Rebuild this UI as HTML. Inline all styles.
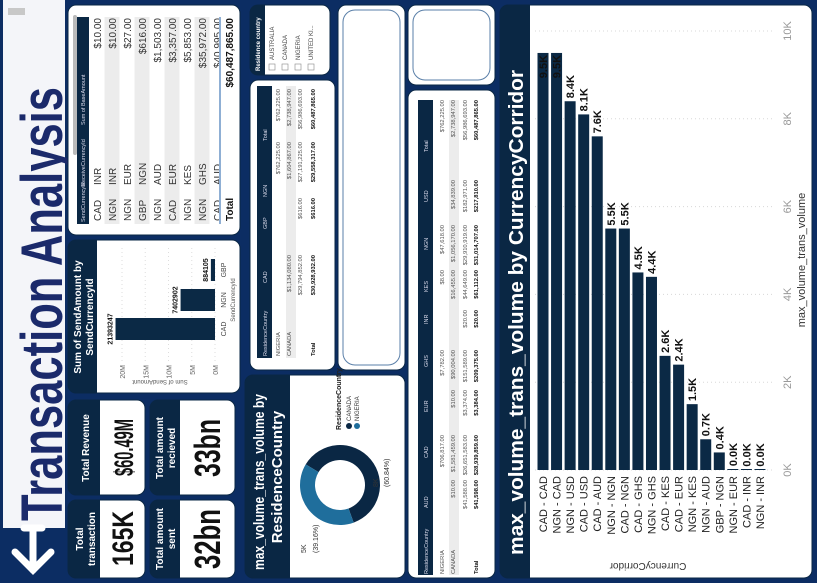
<!DOCTYPE html>
<html>
<head>
<meta charset="utf-8">
<style>
html,body{margin:0;padding:0;width:817px;height:583px;overflow:hidden;background:#0c2d63;}
#rot{position:absolute;left:0;top:0;width:583px;height:817px;transform-origin:0 0;transform:translate(0,583px) rotate(-90deg);}
svg text{font-family:"Liberation Sans",sans-serif;}
</style>
</head>
<body>
<div id="rot">
<svg id="dash" width="583" height="817" viewBox="0 0 583 817" xmlns="http://www.w3.org/2000/svg">
  <rect x="0" y="0" width="583" height="817" fill="#0c2d63"/>
  <!-- title panel -->
  <rect x="55" y="3" width="528" height="62" fill="#f4f5f9"/>
  <rect x="568" y="8" width="7" height="17" fill="#c8c8c8"/>
  <text x="62" y="62" font-size="58" font-weight="bold" fill="#1b2a6b" textLength="434" lengthAdjust="spacingAndGlyphs">Transaction Analysis</text>
  <g stroke="#fff" stroke-width="7" fill="none" stroke-linecap="round">
    <line x1="13" y1="33" x2="53" y2="33"/>
    <polyline points="31,15 13,33 31,51"/>
    <line x1="55" y1="24" x2="55" y2="42"/>
  </g>

  <!-- KPI cards -->
  <g>
    <rect x="5" y="68" width="78" height="77" rx="8" fill="#fff" stroke="#0a2744"/>
    <rect x="5" y="68" width="78" height="32" rx="8" fill="#0a2744"/><rect x="5" y="85" width="78" height="15" fill="#0a2744"/>
    <text x="44" y="83" font-size="10" font-weight="bold" fill="#fff" text-anchor="middle">Total</text>
    <text x="44" y="95" font-size="10" font-weight="bold" fill="#fff" text-anchor="middle">transaction</text>
    <text x="17" y="133" font-size="30" font-weight="bold" fill="#111" textLength="55" lengthAdjust="spacingAndGlyphs">165K</text>
  </g>
  <g>
    <rect x="5" y="150" width="78" height="85" rx="8" fill="#fff" stroke="#0a2744"/>
    <rect x="5" y="150" width="78" height="30" rx="8" fill="#0a2744"/><rect x="5" y="165" width="78" height="15" fill="#0a2744"/>
    <text x="44" y="163" font-size="10" font-weight="bold" fill="#fff" text-anchor="middle">Total amount</text>
    <text x="44" y="175" font-size="10" font-weight="bold" fill="#fff" text-anchor="middle">sent</text>
    <text x="14" y="220" font-size="36" font-weight="bold" fill="#111" textLength="60" lengthAdjust="spacingAndGlyphs">32bn</text>
  </g>
  <g>
    <rect x="88" y="68" width="95" height="77" rx="8" fill="#fff" stroke="#0a2744"/>
    <rect x="88" y="68" width="95" height="32" rx="8" fill="#0a2744"/><rect x="88" y="85" width="95" height="15" fill="#0a2744"/>
    <text x="135" y="89" font-size="10" font-weight="bold" fill="#fff" text-anchor="middle">Total Revenue</text>
    <text x="107" y="133" font-size="27" font-weight="bold" fill="#111" textLength="57" lengthAdjust="spacingAndGlyphs">$60.49M</text>
  </g>
  <g>
    <rect x="88" y="150" width="95" height="85" rx="8" fill="#fff" stroke="#0a2744"/>
    <rect x="88" y="150" width="95" height="30" rx="8" fill="#0a2744"/><rect x="88" y="165" width="95" height="15" fill="#0a2744"/>
    <text x="135" y="163" font-size="10" font-weight="bold" fill="#fff" text-anchor="middle">Total amount</text>
    <text x="135" y="175" font-size="10" font-weight="bold" fill="#fff" text-anchor="middle">recieved</text>
    <text x="106" y="220" font-size="36" font-weight="bold" fill="#111" textLength="58" lengthAdjust="spacingAndGlyphs">33bn</text>
  </g>

  <!-- Sum of SendAmount card -->
  <g>
    <rect x="190" y="68" width="153" height="172" rx="8" fill="#fff" stroke="#0a2744"/>
    <rect x="190" y="68" width="153" height="29" rx="8" fill="#0a2744"/><rect x="190" y="82" width="153" height="15" fill="#0a2744"/>
    <text x="266" y="81" font-size="10" font-weight="bold" fill="#fff" text-anchor="middle">Sum of SendAmount by</text>
    <text x="266" y="93" font-size="10" font-weight="bold" fill="#fff" text-anchor="middle">SendCurrencyId</text>
  </g>
  <g id="smallChart"></g>

  <!-- table 1 -->
  <g>
    <rect x="348" y="68" width="230" height="172" rx="8" fill="#fff" stroke="#0a2744"/>
    <rect x="428" y="73" width="140" height="4" rx="2" fill="#bbb"/>
  </g>
  <g id="table1"></g>

  <!-- donut card -->
  <g>
    <rect x="5" y="245" width="203" height="160" rx="8" fill="#fff" stroke="#0a2744"/>
    <rect x="5" y="245" width="203" height="45" rx="8" fill="#0a2744"/><rect x="5" y="260" width="203" height="30" fill="#0a2744"/>
    <text x="13" y="264" font-size="15" font-weight="bold" fill="#fff" textLength="176" lengthAdjust="spacingAndGlyphs">max_volume_trans_volume by</text>
    <text x="106" y="282" font-size="15" font-weight="bold" fill="#fff" text-anchor="middle">ResidenceCountry</text>
  </g>
  <g id="donut"></g>

  <!-- slicer -->
  <g>
    <rect x="508" y="250" width="70" height="80" rx="8" fill="#fff" stroke="#0a2744"/>
    <rect x="508" y="250" width="70" height="15" rx="7" fill="#0a2744"/><rect x="508" y="258" width="70" height="7" fill="#0a2744"/>
    <text x="512" y="260" font-size="6" font-weight="bold" fill="#fff">Residence country</text>
  </g>
  <g id="slicer"></g>

  <!-- table 2 -->
  <rect x="213" y="250" width="290" height="85" rx="8" fill="#fff" stroke="#0a2744"/>
  <g id="table2"></g>

  <!-- empty boxes -->
  <g>
    <rect x="213" y="338" width="365" height="67" rx="8" fill="#fff" stroke="#0a2744"/>
    <rect x="218" y="343" width="355" height="57" rx="12" fill="none" stroke="#5a7fa8"/>
  </g>
  <g>
    <rect x="498" y="408" width="80" height="87" rx="8" fill="#fff" stroke="#0a2744"/>
    <rect x="503" y="413" width="70" height="77" rx="12" fill="none" stroke="#5a7fa8"/>
  </g>

  <!-- table 3 -->
  <rect x="5" y="408" width="488" height="87" rx="8" fill="#fff" stroke="#0a2744"/>
  <g id="table3"></g>

  <!-- big chart -->
  <g>
    <rect x="5" y="500" width="573" height="312" rx="8" fill="#fff" stroke="#0a2744"/>
    <rect x="5" y="500" width="573" height="30" rx="8" fill="#0a2744"/><rect x="5" y="515" width="573" height="15" fill="#0a2744"/>
    <text x="28" y="523" font-size="20" font-weight="bold" fill="#fff" textLength="485" lengthAdjust="spacingAndGlyphs">max_volume_trans_volume by CurrencyCorridor</text>
  </g>
  <g id="bigChart"></g>
</svg>
</div>
<script>
// ---- big chart data ----
const corridors = ["CAD - CAD","NGN - CAD","NGN - USD","CAD - USD","CAD - AUD","NGN - NGN","CAD - NGN","CAD - GHS","NGN - GHS","CAD - KES","CAD - EUR","NGN - KES","NGN - AUD","GBP - NGN","NGN - EUR","CAD - INR","NGN - INR"];
const corridorVolumes = [9.5,9.5,8.4,8.1,7.6,5.5,5.5,4.5,4.4,2.6,2.4,1.5,0.7,0.4,0.02,0.01,0.01];
const volumeTicks = [0,2,4,6,8,10];
// ---- small chart data ----
const sendCurrencies = ["CAD","NGN","GBP"];
const sendAmounts = [21393247,7402902,884105];
const sendTicks = [0,5,10,15,20];
// ---- donut data ----
const donutCountries = ["CANADA","NIGERIA"];
const donutShares = [60.84,39.16];
const donutLabels = ["8K","5K"];
// ---- slicer ----
const slicerItems = ["AUSTRALIA","CANADA","NIGERIA","UNITED KI..."];
// ---- table 1 ----
const t1Send = ["CAD","NGN","NGN","GBP","NGN","CAD","NGN","NGN","CAD"];
const t1Recv = ["INR","INR","EUR","NGN","AUD","EUR","KES","GHS","AUD"];
const t1Amt = ["$10.00","$10.00","$27.00","$616.00","$1,503.00","$3,357.00","$5,853.00","$35,972.00","$40,995.00"];
// ---- table 2 ----
const t2Head = ["ResidenceCountry","CAD","GBP","NGN","Total"];
const t2Rows = [["NIGERIA","","","$762,225.00","$762,225.00"],["CANADA","$1,134,080.00","","$1,604,867.00","$2,738,947.00"],["","$29,794,852.00","$616.00","$27,191,225.00","$56,986,693.00"],["Total","$30,928,932.00","$616.00","$29,558,317.00","$60,487,865.00"]];
// ---- table 3 ----
const t3Head = ["ResidenceCountry","AUD","CAD","EUR","GHS","INR","KES","NGN","USD","Total"];
const t3Rows = [["NIGERIA","","$706,817.00","","$7,782.00","","$8.00","$47,618.00","","$762,225.00"],["CANADA","$10.00","$1,581,459.00","$10.00","$90,004.00","","$16,455.00","$1,056,170.00","$34,839.00","$2,738,947.00"],["","$41,588.00","$26,651,583.00","$3,374.00","$151,589.00","$20.00","$44,649.00","$29,910,919.00","$182,971.00","$56,986,693.00"],["Total","$41,598.00","$28,939,859.00","$3,384.00","$209,375.00","$20.00","$61,112.00","$31,014,707.00","$217,810.00","$60,487,865.00"]];

const NS = "http://www.w3.org/2000/svg";
function mk(tag, attrs, parent){const e=document.createElementNS(NS,tag);for(const k in attrs)e.setAttribute(k,attrs[k]);parent.appendChild(e);return e;}
function tx(parent,x,y,s,size,fill,anchor,weight){const e=mk("text",{x:x,y:y,"font-size":size,fill:fill,"text-anchor":anchor||"start","font-weight":weight||"normal"},parent);e.textContent=s;return e;}

// ---- big chart ----
(function(){
  const g=document.getElementById("bigChart");
  const u0=113, perK=43.9;
  const xS=v=>u0+v*perK;
  const yS=i=>543+i*13.56;
  volumeTicks.forEach(t=>{
    const l=mk("line",{x1:xS(t),x2:xS(t),y1:535,y2:772,stroke:"#d8d8d8","stroke-dasharray":"1 3"},g);
    
    
    const lb=tx(g,xS(t),791,t+"K",11,"#999","middle");
    
    
  });
  corridors.forEach((c,i)=>{
    const v=corridorVolumes[i];
    const b=mk("rect",{x:u0,y:yS(i)-5.5,width:Math.max(v*perK,1),height:11,fill:"#0b2945"},g);
    
    
    const cl=tx(g,107,yS(i)+4,c,11,"#222","end");
    
    
    const inside=v>9;
    const lab=tx(g,inside?xS(v)-2:xS(v)+3,yS(i)+4,v.toFixed(1)+"K",11,"#111",inside?"end":"start","bold");
    
    
  });
  const at=tx(g,323,805,"max_volume_trans_volume",11,"#333","middle");
  
  
  const yt=tx(g,0,0,"CurrencyCorridor",10,"#333","middle");
  yt.setAttribute('transform','translate(20,648) rotate(-90)');
  
  
})();

// ---- small chart ----
(function(){
  const g=document.getElementById("smallChart");
  const v0=215, perM=4.65;
  const yS=m=>v0-m*perM;
  const xs=[254,283,313];
  sendTicks.forEach(t=>{
    const l=mk("line",{x1:222,x2:335,y1:yS(t),y2:yS(t),stroke:"#ddd","stroke-dasharray":"1 3"},g);
    
    
    const lb=tx(g,218,yS(t)+3,t+"M",7,"#666","end");
    
    
  });
  sendCurrencies.forEach((c,i)=>{
    const m=sendAmounts[i]/1e6;
    const b=mk("rect",{x:xs[i]-11,y:yS(m),width:22,height:m*perM,fill:"#0b2945"},g);
    
    
    const lb=tx(g,xs[i],yS(m)-3,String(sendAmounts[i]),7,"#111","middle","bold");
    
    
    const cl=tx(g,xs[i],226,c,7,"#444","middle");
    
    
  });
  const at=tx(g,283,235,"SendCurrencyId",6,"#555","middle");
  
  
  const yt=tx(g,0,0,"Sum of SendAmount",6,"#555","middle");
  yt.setAttribute('transform','translate(203,160) rotate(-90)');
  
  
})();

// ---- donut ----
(function(){
  const g=document.getElementById("donut");
  const cx=98, cy=340, R=40, r=25;
  const colors=["#0a2744","#1f6e9c"];
  const total=donutShares.reduce((a,b)=>a+b,0);
  let a=301*Math.PI/180;
  donutShares.forEach((s,i)=>{
    const sw=s/total*2*Math.PI, a2=a+sw, lg=sw>Math.PI?1:0;
    const p=`M${cx+R*Math.cos(a)},${cy+R*Math.sin(a)} A${R},${R} 0 ${lg} 1 ${cx+R*Math.cos(a2)},${cy+R*Math.sin(a2)} L${cx+r*Math.cos(a2)},${cy+r*Math.sin(a2)} A${r},${r} 0 ${lg} 0 ${cx+r*Math.cos(a)},${cy+r*Math.sin(a)} Z`;
    const sl=mk("path",{d:p,fill:colors[i]},g);
    
    
    a=a2;
  });
  const l1=tx(g,96,378,donutLabels[0],7,"#333","start");
  
  
  const l1b=tx(g,96,389,"("+donutShares[0].toFixed(2)+"%)",7,"#333","start");
  
  
  const l2=tx(g,30,306,donutLabels[1],7,"#333","start");
  
  
  const l2b=tx(g,30,318,"("+donutShares[1].toFixed(2)+"%)",7,"#333","start");
  
  
  const lt=tx(g,153,341,"ResidenceCountry",7,"#222","start","bold");
  
  
  donutCountries.forEach((c,i)=>{
    const d=mk("circle",{cx:157,cy:349+i*8,r:3,fill:colors[i]},g);
    
    
    const t=tx(g,162,351+i*8,c,6,"#333","start");
    
    
  });
})();

// ---- slicer ----
(function(){
  const g=document.getElementById("slicer");
  slicerItems.forEach((s,i)=>{
    const b=mk("rect",{x:513,y:269+i*13,width:6,height:6,fill:"#fff",stroke:"#888","stroke-width":0.6},g);
    
    
    const t=tx(g,523,274+i*13,s,6,"#444","start");
    
    
  });
})();

// ---- table 1 ----
(function(){
  const g=document.getElementById("table1");
  const h=mk("rect",{x:359,y:77,width:207,height:12,fill:"#0a2744"},g);
  
  
  [["SendCurrencyId",361],["ReceiveCurrencyId",397],["Sum of BaseAmount",458]].forEach(p=>{
    const t=tx(g,p[1],85,p[0],5.5,"#dde","start");
    
    
  });
  t1Send.forEach((s,i)=>{
    const c=97+i*15;
    if(c>224) return;
    if(i%2===1){const r=mk("rect",{x:359,y:c-7.5,width:207,height:15,fill:"#ececec"},g);
      
      }
    const a=tx(g,362,c+4,s,10,"#333");
    
    
    const b=tx(g,398,c+4,t1Recv[i],10,"#333");
    
    
    const d=tx(g,565,c+4,t1Amt[i],10,"#333","end");
    
    
  });
  const cov=mk("rect",{x:355,y:219,width:214,height:19,fill:"#fff"},g);
  
  
  const ln=mk("line",{x1:359,x2:566,y1:220,y2:220,stroke:"#1f5fa8","stroke-width":1},g);
  
  
  const tl=tx(g,362,233,"Total",10,"#111","start","bold");
  
  
  const tv=tx(g,565,233,"$60,487,865.00",10,"#111","end","bold");
  
  
})();

// ---- table 2 ----
(function(){
  const g=document.getElementById("table2");
  const h=mk("rect",{x:225,y:257,width:272,height:15,fill:"#0a2744"},g);
  
  
  const hx=[227,300,354,386,442];
  const ex=[0,328,385,441,494];
  t2Head.forEach((s,j)=>{
    const t=tx(g,hx[j],267,s,5.5,"#dde","start");
    
    
  });
  const rv=[280,291,302,315];
  const band=mk("rect",{x:225,y:286,width:272,height:10,fill:"#ececec"},g);
  
  
  t2Rows.forEach((row,i)=>{
    const bold=i===3;
    row.forEach((s,j)=>{
      if(!s) return;
      const t=j===0?tx(g,227,rv[i],s,5.8,bold?"#111":"#555","start",bold?"bold":"normal"):tx(g,ex[j],rv[i],s,5.8,bold?"#111":"#555","end",bold?"bold":"normal");
      
      
    });
  });
})();

// ---- table 3 ----
(function(){
  const g=document.getElementById("table3");
  const h=mk("rect",{x:8,y:418,width:475,height:15,fill:"#0a2744"},g);
  
  
  const hx=[9,75,125,171,216,259,291,333,381,431];
  const ex=[0,103,148,193,233,273,313,358,403,483];
  t3Head.forEach((s,j)=>{
    const t=tx(g,hx[j],428,s,5.5,"#dde","start");
    
    
  });
  const rv=[444,455,467,478];
  const band=mk("rect",{x:8,y:449,width:475,height:10,fill:"#ececec"},g);
  
  
  t3Rows.forEach((row,i)=>{
    const bold=i===3;
    row.forEach((s,j)=>{
      if(!s) return;
      const t=j===0?tx(g,9,rv[i],s,5.8,bold?"#111":"#555","start",bold?"bold":"normal"):tx(g,ex[j],rv[i],s,5.8,bold?"#111":"#555","end",bold?"bold":"normal");
      
      
    });
  });
})();
</script>
</body>
</html>
